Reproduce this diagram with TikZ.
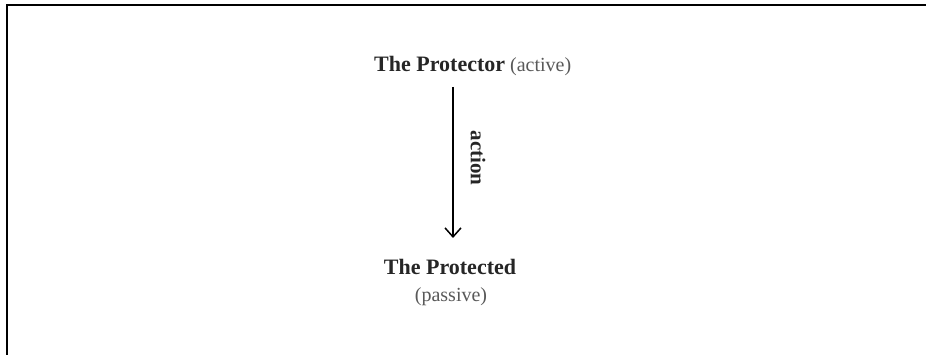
\documentclass[tikz,border=0pt]{standalone}
\usetikzlibrary{arrows.meta}
\usepackage{fontspec}
\setmainfont{Liberation Serif}
\begin{document}
\begin{tikzpicture}[x=1pt,y=1pt,
  frame/.style={line width=2.2pt,black},
  bold/.style={font=\fontsize{22}{25}\selectfont\bfseries,text=black!85},
  light/.style={font=\fontsize{20}{23}\selectfont,text=black!65},
  arr/.style={line width=1.5pt,-{Straight Barb[length=9pt,width=16pt,line width=1.5pt]}}]
\useasboundingbox (0,0) rectangle (926,355);
\fill[white] (0,0) rectangle (926,355);
\draw[frame] (7,0) -- (7,350) -- (926,350);
\node[anchor=base west,inner sep=0] (top) at (374,283) {\textcolor{black!85}{\fontsize{22}{25}\selectfont\bfseries The Protector}\hspace{5pt}\textcolor{black!65}{\fontsize{20}{23}\selectfont (active)}};
\node[bold,anchor=base,inner sep=0] (bot) at (450,80) {The Protected};
\node[light,anchor=base,inner sep=0] (pas) at (451,53) {(passive)};
\coordinate (a1) at (453,268);
\coordinate (a2) at (453,117);
\draw[arr] (a1) -- (a2);
\node[bold,font=\fontsize{21}{24}\selectfont\bfseries,rotate=-90,inner sep=0] (act) at (478,197) {action};
\end{tikzpicture}
\end{document}
